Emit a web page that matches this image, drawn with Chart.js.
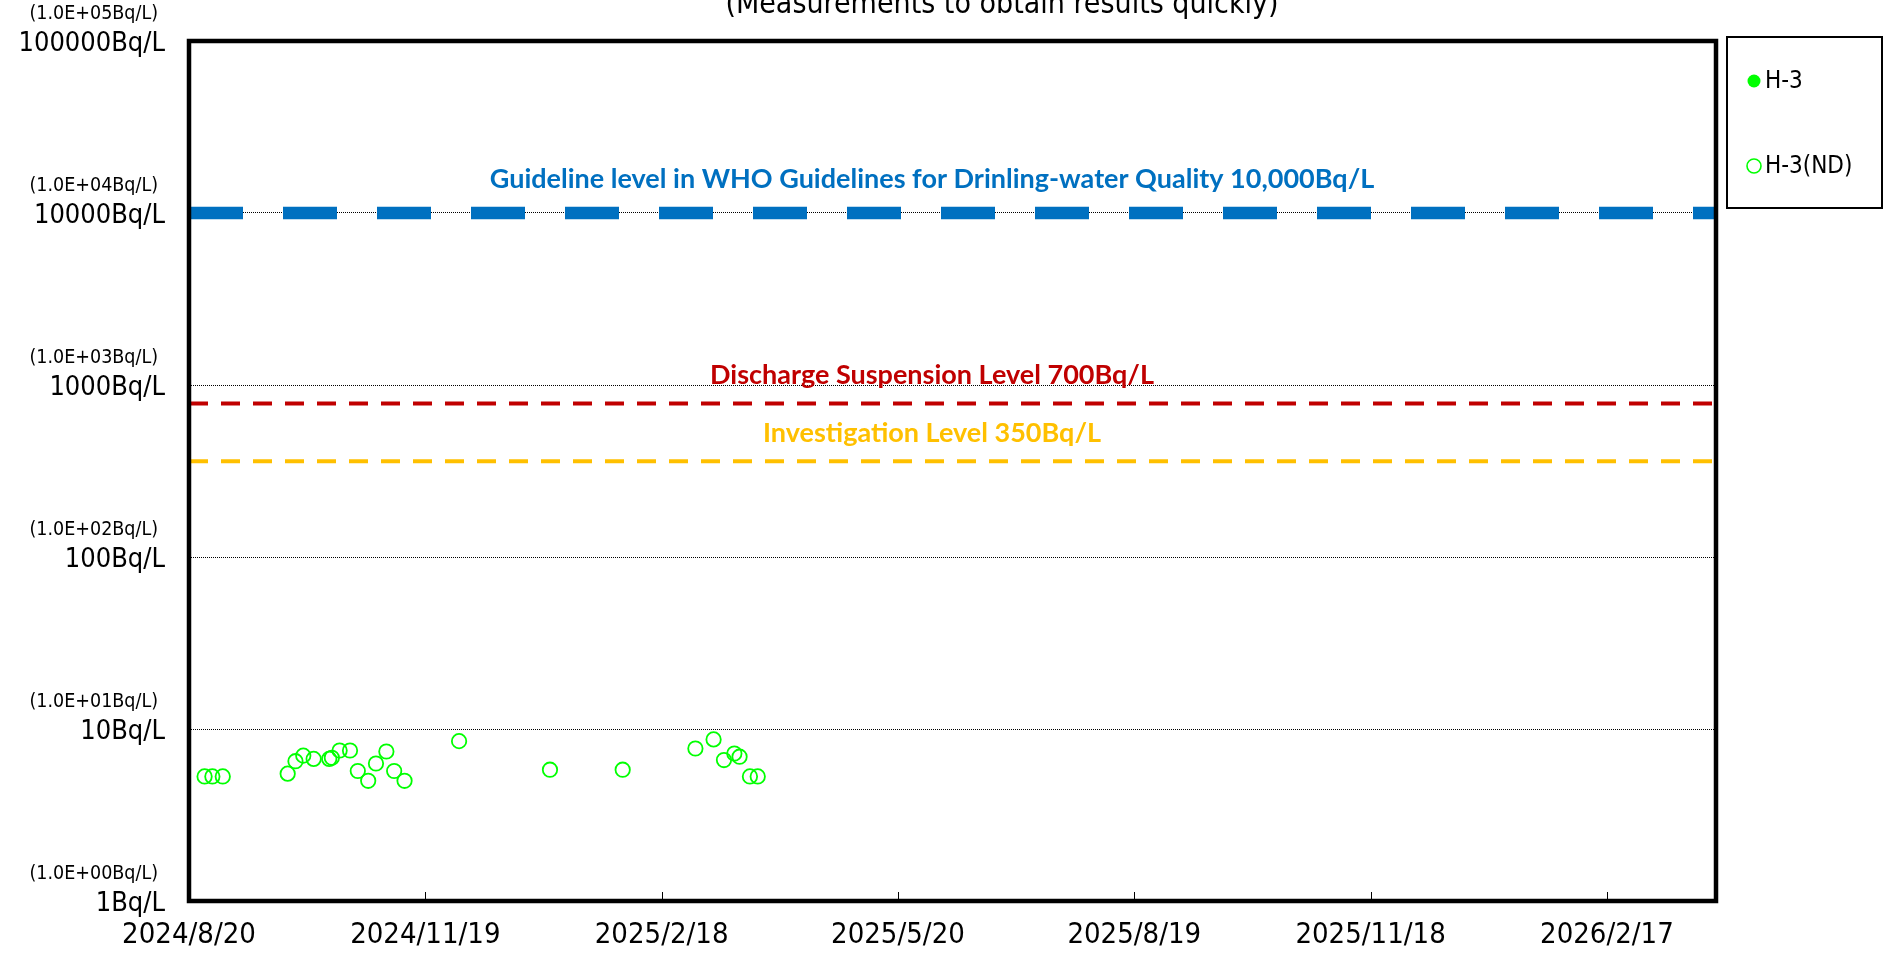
<!DOCTYPE html>
<html><head><meta charset="utf-8">
<script src="https://cdn.jsdelivr.net/npm/chart.js@4.4.1/dist/chart.umd.min.js"></script>
<style>html,body{margin:0;padding:0;background:#fff;overflow:hidden}canvas{display:block}</style>
</head><body><canvas id="c" width="1888" height="953"></canvas>
<script>
// ---- data ----
const baseDate = '2024/8/20';
const xMaxDate = '2026/3/31';
const xTickLabels = ['2024/8/20','2024/11/19','2025/2/18','2025/5/20','2025/8/19','2025/11/18','2026/2/17'];
const yTickValues = [1, 10, 100, 1000, 10000, 100000];
const yTickLabels = ['1Bq/L','10Bq/L','100Bq/L','1000Bq/L','10000Bq/L','100000Bq/L'];
const yTickSubLabels = ['(1.0E+00Bq/L)','(1.0E+01Bq/L)','(1.0E+02Bq/L)','(1.0E+03Bq/L)','(1.0E+04Bq/L)','(1.0E+05Bq/L)'];
const h3Dates = [];
const h3Values = [];
const ndDates = ['2024/8/26','2024/8/29','2024/9/2','2024/9/27','2024/9/30','2024/10/3','2024/10/7','2024/10/13','2024/10/14','2024/10/17','2024/10/21','2024/10/24','2024/10/28','2024/10/31','2024/11/4','2024/11/7','2024/11/11','2024/12/2','2025/1/6','2025/2/3','2025/3/3','2025/3/10','2025/3/14','2025/3/18','2025/3/20','2025/3/24','2025/3/27'];
const ndValues = [5.3,5.3,5.3,5.5,6.5,7.0,6.7,6.7,6.8,7.5,7.5,5.7,5.0,6.3,7.4,5.7,5.0,8.5,5.8,5.8,7.7,8.7,6.6,7.2,6.9,5.3,5.3];
const seriesLabels = ['H-3','H-3(ND)'];
const refLabels = ['Guideline level in WHO Guidelines for Drinling-water Quality 10,000Bq/L','Discharge Suspension Level 700Bq/L','Investigation Level 350Bq/L'];
const refValues = [10000, 780, 360];
const titleText = '(Measurements to obtain results quickly)';

// ---- helpers ----
function dayIndex(s){
  const [y,m,d] = s.split('/').map(Number);
  const [by,bm,bd] = baseDate.split('/').map(Number);
  return Math.round((Date.UTC(y,m-1,d) - Date.UTC(by,bm-1,bd)) / 86400000);
}
const xMax = dayIndex(xMaxDate);
const xTicks = xTickLabels.map(dayIndex);
const pts = (ds, vs) => ds.map((d,i) => ({x: dayIndex(d), y: vs[i]}));

const NARROW = "'DejaVu Sans Condensed','Liberation Sans Narrow','DejaVu Sans',sans-serif";
const BOLD = "Lato,'Open Sans',sans-serif";
const GREEN = '#00ff00';
const refColors = ['#0070C0','#C00000','#FFC000'];
const refWidths = [12.5, 4, 4];
const refDashes = [[54,40],[19,13],[19,13]];
const refLabelOffsets = [34, 28, 28];

const refDatasets = refValues.map((v,i) => ({
  type: 'line', label: refLabels[i],
  data: [{x:0,y:v},{x:xMax,y:v}],
  borderColor: refColors[i], borderWidth: refWidths[i], borderDash: refDashes[i],
  borderCapStyle: 'butt', pointRadius: 0, fill: false, showLine: true, order: 5
}));

const decor = {
  id: 'decor',
  afterDatasetsDraw(chart){
    const ctx = chart.ctx, ca = chart.chartArea;
    const xs = chart.scales.x, ys = chart.scales.y;
    ctx.save();
    // x inner tick marks
    ctx.strokeStyle = '#000'; ctx.lineWidth = 1;
    xTicks.forEach(v => {
      const px = Math.round(xs.getPixelForValue(v)) + 0.5;
      ctx.beginPath(); ctx.moveTo(px, ca.bottom); ctx.lineTo(px, ca.bottom - 9); ctx.stroke();
    });
    // frame
    ctx.lineWidth = 4.5; ctx.strokeStyle = '#000';
    ctx.strokeRect(ca.left, ca.top, ca.right - ca.left, ca.bottom - ca.top);
    // ref labels
    ctx.textAlign = 'center'; ctx.textBaseline = 'middle';
    refValues.forEach((v,i) => {
      const py = ys.getPixelForValue(v) - refLabelOffsets[i];
      ctx.font = 'bold 27px ' + BOLD;
      ctx.fillStyle = refColors[i];
      ctx.fillText(refLabels[i], 932, py);
    });
    // y labels
    ctx.fillStyle = '#000'; ctx.textAlign = 'right'; ctx.textBaseline = 'middle';
    yTickValues.forEach((v,i) => {
      const py = ys.getPixelForValue(v);
      ctx.font = '27px ' + NARROW;
      ctx.fillText(yTickLabels[i], 165, py + 3);
      ctx.font = '19.5px ' + NARROW;
      ctx.fillText(yTickSubLabels[i], 158, py - 27);
    });
    // title (partially cut at top)
    ctx.textAlign = 'center'; ctx.textBaseline = 'alphabetic';
    ctx.font = '30px ' + NARROW;
    ctx.fillText(titleText, 1002, 13);
    // legend
    const lx = 1727, ly = 37, lw = 155, lh = 171;
    ctx.lineWidth = 2; ctx.strokeStyle = '#000';
    ctx.strokeRect(lx, ly, lw, lh);
    const legY = [81, 166];
    ctx.textAlign = 'left'; ctx.textBaseline = 'middle'; ctx.font = '24px ' + NARROW;
    [0,1].forEach(i => {
      const ds = chart.data.datasets[i];
      ctx.beginPath();
      if (i === 0) { ctx.arc(1754, legY[i], 6.5, 0, Math.PI*2); ctx.fillStyle = ds.backgroundColor; ctx.fill(); }
      else { ctx.arc(1754, legY[i], 7, 0, Math.PI*2); ctx.lineWidth = 1.6; ctx.strokeStyle = ds.borderColor; ctx.stroke(); }
      ctx.fillStyle = '#000';
      ctx.fillText(ds.label, 1765, legY[i] + 1);
    });
    ctx.restore();
  }
};

new Chart(document.getElementById('c'), {
  type: 'scatter',
  data: {
    datasets: [
      { label: seriesLabels[0], data: pts(h3Dates, h3Values), backgroundColor: GREEN, borderColor: GREEN, pointRadius: 7, pointStyle: 'circle', order: 1 },
      { label: seriesLabels[1], data: pts(ndDates, ndValues), backgroundColor: 'rgba(0,0,0,0)', borderColor: GREEN, borderWidth: 1.8, pointRadius: 7.2, pointStyle: 'circle', order: 1 },
      ...refDatasets
    ]
  },
  options: {
    responsive: false, animation: false, devicePixelRatio: 1,
    layout: { padding: { left: 0, right: 172, top: 41, bottom: 0 } },
    plugins: { legend: { display: false }, tooltip: { enabled: false } },
    scales: {
      x: {
        type: 'linear', min: 0, max: xMax,
        afterBuildTicks: s => { s.ticks = xTicks.map(v => ({value: v})); },
        afterFit: s => { s.height = 52; },
        grid: { display: false, drawTicks: false },
        border: { display: false },
        ticks: {
          padding: 17, color: '#000', maxRotation: 0, autoSkip: false,
          font: { family: NARROW, size: 29 },
          callback: (v) => { const k = xTicks.indexOf(v); return k >= 0 ? xTickLabels[k] : ''; }
        }
      },
      y: {
        type: 'logarithmic', min: yTickValues[0], max: yTickValues[yTickValues.length-1],
        afterBuildTicks: s => { s.ticks = yTickValues.map(v => ({value: v})); },
        afterFit: s => { s.width = 189; },
        grid: { color: '#000', lineWidth: 1, drawTicks: false },
        border: { display: false, dash: [1,1] },
        ticks: { display: false }
      }
    }
  },
  plugins: [decor]
});
</script>
</body></html>
